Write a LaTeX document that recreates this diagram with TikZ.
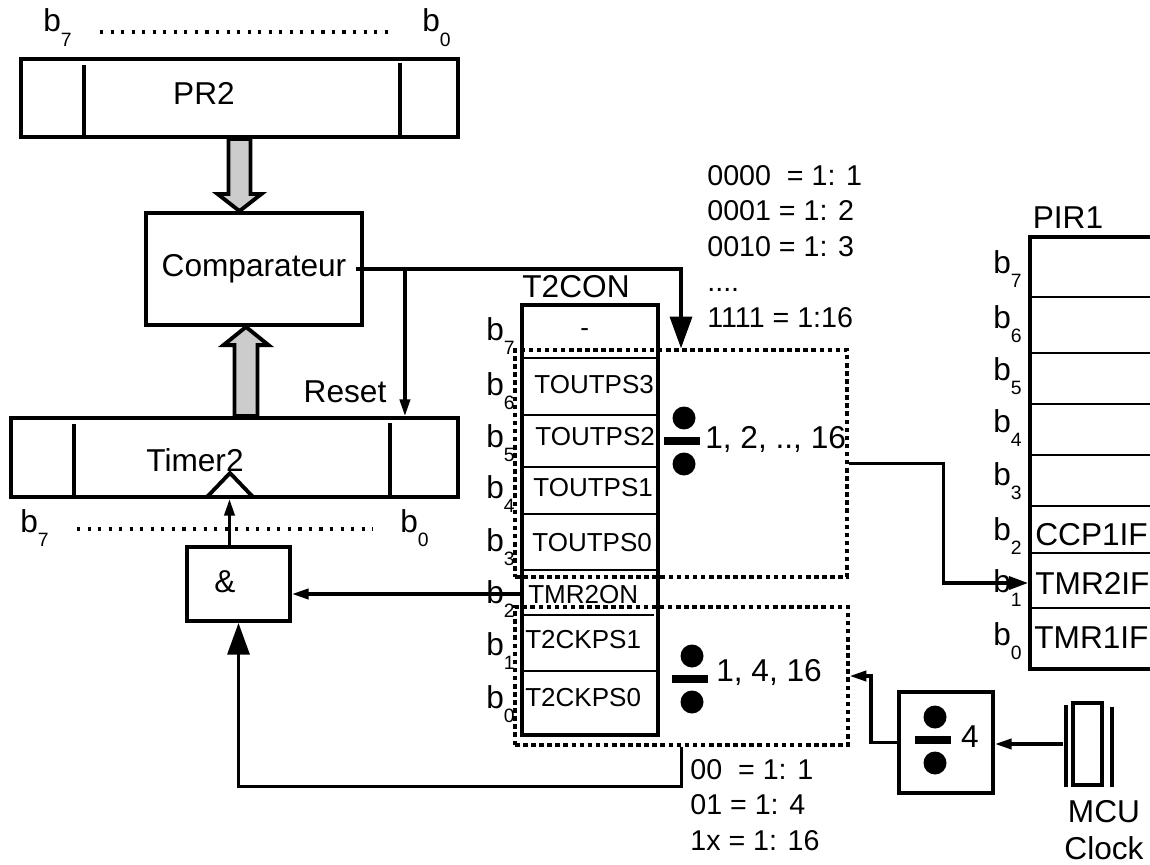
\documentclass[tikz,border=0pt]{standalone}
\usepackage{fontspec}
\setmainfont{Liberation Sans}
\usetikzlibrary{arrows.meta,positioning,fit,calc}
\newcommand{\bit}[1]{b\raisebox{-8.5pt}{\fontsize{11}{11}\selectfont #1}}
\newcommand{\divby}[1]{%
  \fill ($(#1)+(2,-23)$) circle[radius=0.23cm] ($(#1)+(2,23)$) circle[radius=0.23cm];
  \draw[line width=4pt] ($(#1)+(-18,0)$) -- ($(#1)+(18,0)$);}

\begin{document}
\begin{tikzpicture}[x=0.02cm,y=-0.02cm,font=\fontsize{18}{21}\selectfont,
  reg/.style={draw,line width=2.2pt,inner sep=0pt},
  rowline/.style={line width=1.7pt},
  sel/.style={draw,line width=1.9pt,dash pattern=on 2.6pt off 2pt,inner sep=0pt},
  dots/.style={line width=1.8pt,dash pattern=on 1.8pt off 4.2pt},
  wire/.style={line width=1.9pt},
  tipS/.style={-{Triangle[length=9.5pt,width=5.8pt]}},
  tipM/.style={-{Triangle[length=11pt,width=7.5pt]}},
  tipB/.style={-{Triangle[length=18pt,width=12.5pt]}},
  bus/.style={draw,line width=2.2pt,fill=gray!40,line join=miter},
  bl/.style={anchor=base west,inner sep=0pt},
  cell/.style={anchor=west,inner sep=0pt,font=\fontsize{14.8}{16}\selectfont},
  flag/.style={anchor=west,inner sep=0pt},
  ratio/.style={anchor=base west,inner sep=0pt,align=left,font=\fontsize{16.3}{20.2}\selectfont}]
\useasboundingbox (0,0) rectangle (1150,865);
% PR2
\node[reg,fit={(21,59) (458,137)}] (pr2) {};
\draw[line width=2.2pt] (84,65) -- (84,137) (400,63) -- (400,137);
\node at (204,93) {PR2};
\node[bl] at (43,32) {\bit{7}};
\draw[dots] (100,32) -- (395,32);
\node[bl] at (422,32) {\bit{0}};
% comparator and timer
\node[reg,fit={(146,213) (362,325)},label=center:Comparateur] (comp) {};
\node[reg,fit={(11,418) (458,497)}] (tmr) {};
\draw[line width=2.2pt] (74,424) -- (74,497) (390,423) -- (390,497);
\node at (195,460) {Timer2};
\draw[line width=2.2pt] (207,497) -- (230,473) -- (253,497);
\node[bl] at (20,532) {\bit{7}};
\draw[dots] (77,529) -- (373,529);
\node[bl] at (400,532) {\bit{0}};
\draw[bus] ($(pr2.south)+(-11,0)$) -- ++(0,55) -- ++(-11,0) -- (pr2.south |- comp.north)
  -- ($(pr2.south)+(22,55)$) -- ++(-11,0) -- ++(0,-55) -- cycle;
\coordinate (cb) at ($(tmr.north)+(11.5,0)$);
\draw[bus] ($(cb)+(-11.5,0)$) -- ++(0,-71) -- ++(-11,0) -- (cb |- comp.south)
  -- ($(cb)+(22.5,-71)$) -- ++(-11,0) -- ++(0,71) -- cycle;
\node[reg,fit={(187,547) (290,621)}] (and) {};
\node at (225,582) {\&};
% T2CON
\node[reg,fit={(522,305) (658,735)}] (t2con) {};
\node at (576,287) {T2CON};
\draw[rowline] (522,358) -- (658,358) (522,415) -- (658,415) (522,467) -- (658,467)
  (522,514) -- (658,514) (522,570) -- (658,570) (522,615) -- (654,615) (522,671) -- (658,671);
\node[cell] at (580,333) {-};
\node[cell] at (534,385) {TOUTPS3};
\node[cell] at (535,437) {TOUTPS2};
\node[cell] at (533,488) {TOUTPS1};
\node[cell] at (532,543) {TOUTPS0};
\node[cell] at (528,595) {TMR2ON};
\node[cell] at (525,640) {T2CKPS1};
\node[cell] at (525,698) {T2CKPS0};
\node[bl] at (486,340) {\bit{7}};
\node[bl] at (486,395) {\bit{6}};
\node[bl] at (486,447) {\bit{5}};
\node[bl] at (486,498) {\bit{4}};
\node[bl] at (486,551) {\bit{3}};
\node[bl] at (486,603) {\bit{2}};
\node[bl] at (486,655) {\bit{1}};
\node[bl] at (486,708) {\bit{0}};
% post- and prescaler
\node[sel,fit={(515,350) (847,577)}] (post) {};
\node[sel,fit={(515,607) (848,745)}] (pre) {};
\divby{682,441}
\node[flag] at (705,439) {1, 2, .., 16};
\divby{690,679}
\node[flag] at (716,672) {1, 4, 16};
\node[ratio] at (707,327) {0000 \ = 1: 1\\0001 = 1: 2\\0010 = 1: 3\\....\\1111 = 1:16};
\node[ratio] at (690,850) {00 \ = 1: 1\\01 = 1: 4\\1x = 1: 16};
% PIR1
\node[reg,fit={(1030,237) (1180,669)}] (pir) {};
\node at (1068,218) {PIR1};
\draw[rowline] (1030,297) -- (1150,297) (1030,353) -- (1150,353) (1030,404) -- (1150,404)
  (1030,455) -- (1150,455) (1030,506) -- (1150,506) (1030,553) -- (1150,553) (1030,608) -- (1150,608);
\node[flag] (ccp1if) at (1035,535) {CCP1IF};
\node[flag] (tmr2if) at (1035,583) {TMR2IF};
\node[flag] (tmr1if) at (1034,638) {TMR1IF};
\node[bl] at (993,273) {\bit{7}};
\node[bl] at (993,328) {\bit{6}};
\node[bl] at (993,380) {\bit{5}};
\node[bl] at (993,432) {\bit{4}};
\node[bl] at (993,485) {\bit{3}};
\node[bl] at (993,540) {\bit{2}};
\node[bl] at (993,592) {\bit{1}};
\node[bl] at (993,645) {\bit{0}};
% clock
\node[reg,fit={(899,692) (993,793)}] (div4) {};
\divby{933,740}
\node at (970,737) {4};
\node[reg,fit={(1073,703) (1102,785)}] (xtal) {};
\draw[line width=2.2pt] (1066,705) -- (1066,787) (1112,707) -- (1112,787);
\node[align=center,font=\fontsize{18}{21.5}\selectfont] at (1104,830) {MCU\\Clock};
% connectors
\draw[wire,tipB] ($(comp.east)+(-8,0)$) -| (post.north);
\coordinate (rst) at ($(comp.east)+(41,0)$);
\draw[wire,tipS] (rst) -- (rst |- tmr.north);
\node at (345,392) {Reset};
\draw[wire,tipS] ($(and.north)+(-9,0)$) -- ($(tmr.south)+(-5,0)$);
\coordinate (en) at ($(and.east)+(0,10)$);
\draw[wire,tipS] (en -| t2con.west) -- (en);
\draw[wire,tipB] (pre.south) -- ++(0,40) -| (and.south);
\draw[wire,tipM] (post.east) -- ++(95,0) |- (pir.west |- tmr2if.west);
\draw[wire,tipS] (div4.west) -- ++(-26,0) |- (pre.east);
\draw[wire,tipS] ($(xtal.west)+(-8,0)$) -- (div4.east |- xtal.west);
\end{tikzpicture}
\end{document}
